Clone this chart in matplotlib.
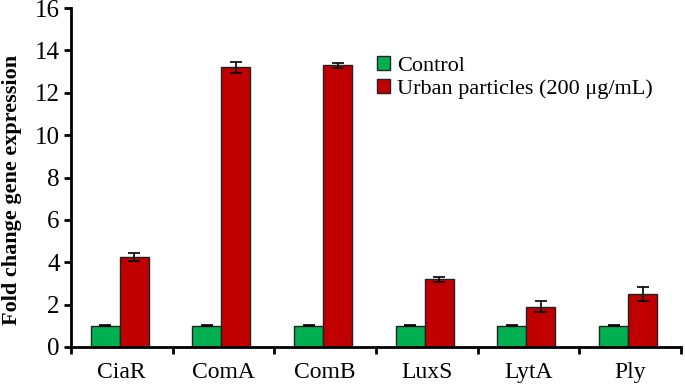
import matplotlib.pyplot as plt
import numpy as np

plt.rcParams['font.family'] = ['Liberation Serif', 'DejaVu Serif']

genes = ['CiaR', 'ComA', 'ComB', 'LuxS', 'LytA', 'Ply']
control = [1.0, 1.0, 1.0, 1.0, 1.0, 1.0]
control_err = [0.03, 0.03, 0.03, 0.03, 0.03, 0.03]
urban = [4.25, 13.2, 13.3, 3.2, 1.9, 2.5]
urban_err = [0.18, 0.25, 0.12, 0.12, 0.25, 0.32]

fig = plt.figure(figsize=(6.85, 3.87), dpi=100)
ax = fig.add_axes([0.1036, 0.1034, 0.8904, 0.8756])

x = np.arange(len(genes))
w = 0.285
err_kw = dict(ecolor='black', capsize=4, elinewidth=1.2, capthick=1.2)
ax.bar(x - w / 2 - 0.02, control, w, yerr=control_err, color='#00b050',
       edgecolor='#222222', linewidth=1, error_kw=err_kw, label='Control')
ax.bar(x + w / 2 - 0.02, urban, w, yerr=urban_err, color='#c00000',
       edgecolor='#222222', linewidth=1, error_kw=err_kw,
       label='Urban particles (200 \u03bcg/mL)')

ax.set_xlim(-0.5, len(genes) - 0.5)
ax.set_ylim(0, 16)
ax.set_yticks(range(0, 17, 2))
ax.set_xticks(np.arange(len(genes) + 1) - 0.5)
ax.set_xticklabels([])
ax.set_xticks(x, minor=True)
ax.set_xticklabels(genes, minor=True, fontsize=17)
ax.tick_params(axis='x', which='minor', length=0, pad=11)
ax.tick_params(axis='x', which='major', direction='out', length=5, width=2)
ax.tick_params(axis='y', direction='out', length=5, width=2, labelsize=18, pad=3)

for s in ['top', 'right']:
    ax.spines[s].set_visible(False)
for s in ['left', 'bottom']:
    ax.spines[s].set_linewidth(2)

ax.set_ylabel('Fold change gene expression', fontsize=16, fontweight='bold')
ax.yaxis.set_label_coords(-0.080, 0.463)

ax.legend(loc='upper left', bbox_to_anchor=(0.487, 0.885), frameon=False, fontsize=16,
          handlelength=0.6, handleheight=0.6, handletextpad=0.3, labelspacing=0.15,
          borderaxespad=0)

plt.savefig('out.png', dpi=100)
